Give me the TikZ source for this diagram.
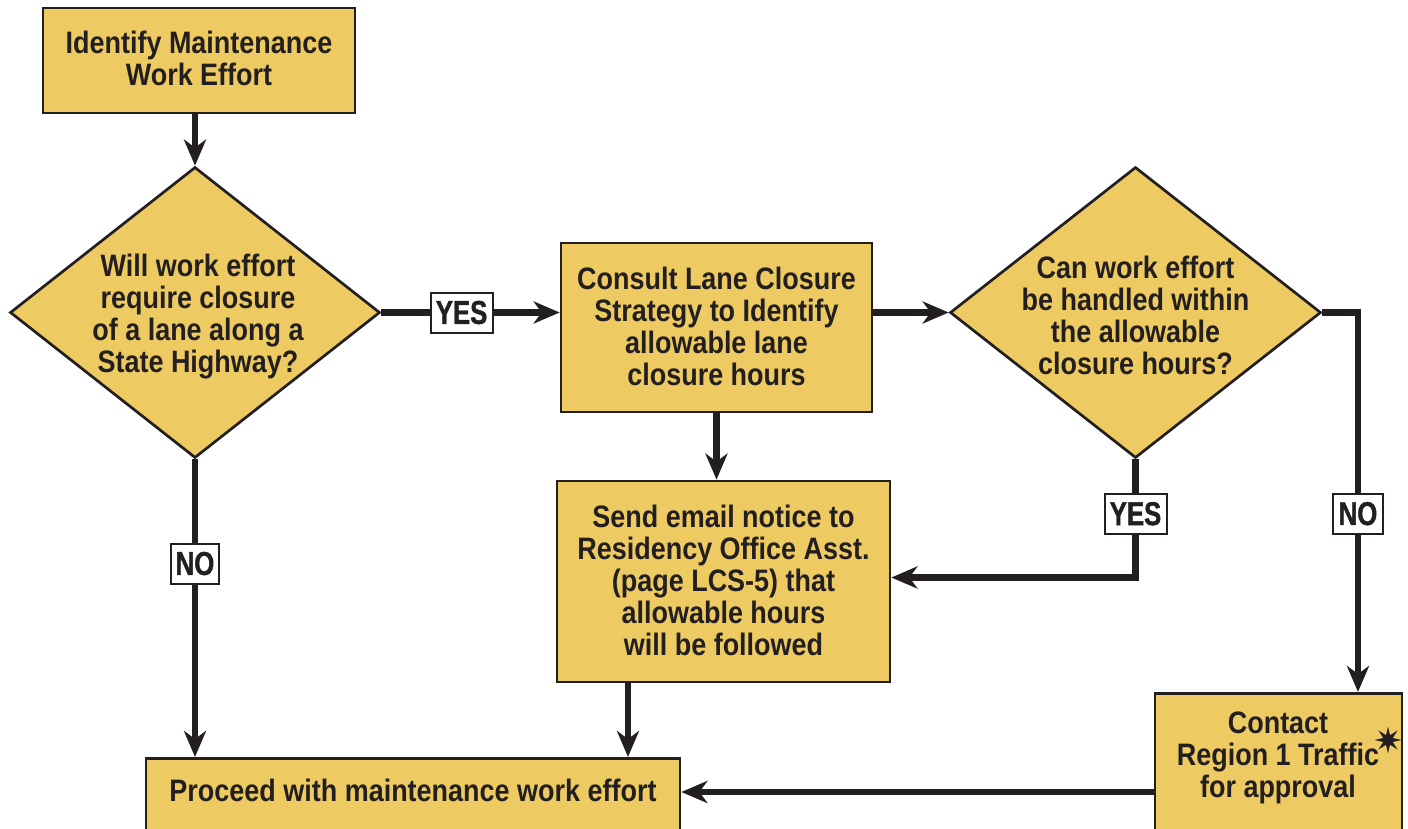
\documentclass[tikz,border=0pt]{standalone}
\usepackage{fontspec}
\setmainfont{Liberation Sans}[FakeStretch=0.87]
\newfontfamily\labfont{Liberation Sans}[FakeStretch=0.78,BoldFeatures={FakeBold=1.2}]
\usetikzlibrary{arrows.meta,shapes.geometric}
\definecolor{boxfill}{RGB}{237,203,98}
\definecolor{ink}{RGB}{35,31,32}
\begin{document}
\begin{tikzpicture}[x=1pt,y=-1pt,
  box/.style={draw=ink,line width=2.7pt,fill=boxfill,rectangle,inner sep=0pt},
  dia/.style={draw=ink,line width=2.7pt,fill=boxfill,diamond,inner sep=0pt,aspect=1.27},
  txt/.style={align=center,text=ink,font=\fontsize{31}{32}\selectfont\bfseries,inner sep=0pt},
  conn/.style={draw=ink,line width=6.5pt,-{Stealth[length=26pt,width=22pt,inset=8pt]}},
  lab/.style={draw=ink,line width=2pt,fill=white,text=ink,font=\labfont\fontsize{33}{33}\selectfont\bfseries,minimum width=62pt,minimum height=40pt,inner sep=1pt},
]
\useasboundingbox (0,0) rectangle (1408,829);
% boxes
\node[box,minimum width=312pt,minimum height=105pt] (b1) at (199,60.5) {};
\node[txt] (b1t) at (199,58.5) {Identify Maintenance\\Work Effort};
\node[dia,minimum width=370pt,minimum height=291pt] (d1) at (195,312.5) {};
\node[txt] (d1t) at (198,317) {Will work effort\\require closure\\of a lane along a\\State Highway?};
\node[box,minimum width=311pt,minimum height=169pt] (b2) at (716.5,327.5) {};
\node[txt] (b2t) at (716.5,326) {Consult Lane Closure\\Strategy to Identify\\allowable lane\\closure hours};
\node[dia,minimum width=371pt,minimum height=291pt] (d2) at (1135.5,312.5) {};
\node[txt] (d2t) at (1135.5,315) {Can work effort\\be handled within\\the allowable\\closure hours?};
\node[box,minimum width=333pt,minimum height=201pt] (b3) at (723.5,581.5) {};
\node[txt] (b3t) at (723.5,580) {Send email notice to\\Residency Office Asst.\\(page LCS-5) that\\allowable hours\\will be followed};
\node[box,minimum width=534pt,minimum height=90pt,anchor=north] (b5) at (413,757) {};
\node[txt] (b5t) at (413,790) {Proceed with maintenance work effort};
\node[box,minimum width=247pt,minimum height=160pt,anchor=north] (b4) at (1278.5,692) {};
\node[txt] (b4t) at (1278,758) {Contact\\Region 1 Traffic\\for approval};
\node[star,star points=8,star point ratio=2.6,fill=ink,minimum size=27pt,inner sep=0pt] (st) at (1388,740) {};
% connectors
\draw[conn] (b1.south -| d1.north) -- (d1.north);
\draw[conn] (d1.east) -- node[lab,pos=0.45]{YES} (b2.west |- d1.east);
\draw[conn] (b2.east |- d2.west) -- (d2.west);
\draw[conn] (b2.south) -- (b3.north -| b2.south);
\draw[conn] (d1.south) -- node[lab,pos=0.35,minimum width=48pt]{NO} (b5.north -| d1.south);
\draw[conn] (d2.south) |- node[lab,pos=0.23]{YES} ([yshift=4pt]b3.east);
\draw[conn] (d2.east) -| node[lab,pos=0.765,minimum width=50pt]{NO} (b4.north -| 1358,0);
\draw[conn] (b3.south -| 628,0) -- (b5.north -| 628,0);
\draw[conn] (b4.west |- 0,792) -- (b5.east |- 0,792);
\end{tikzpicture}
\end{document}
